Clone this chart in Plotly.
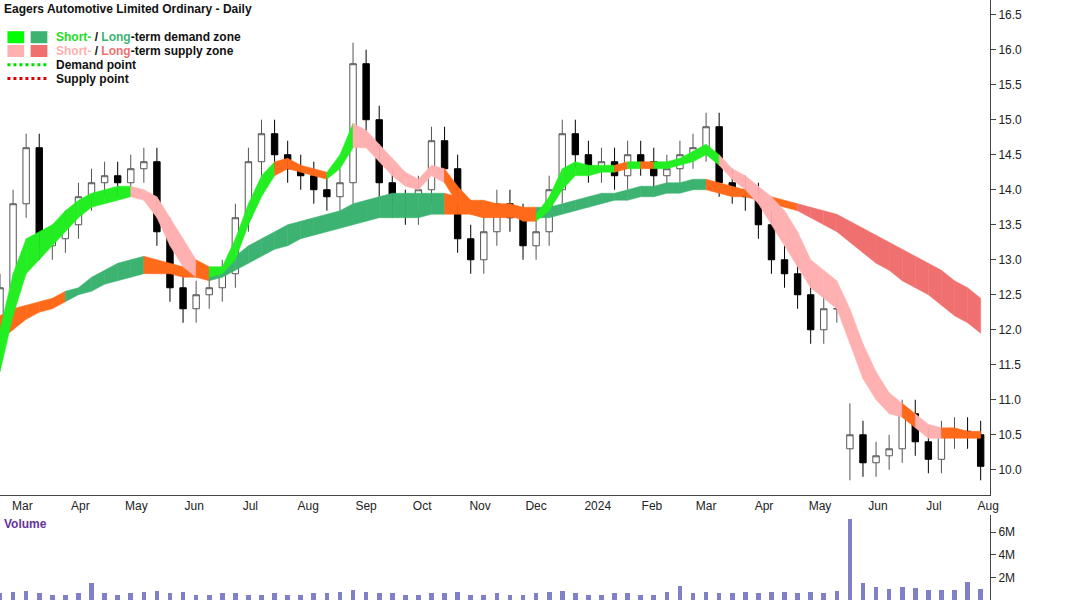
import pandas as pd
import plotly.graph_objects as go
from plotly.subplots import make_subplots

dates = pd.date_range("2023-02-24", periods=76, freq="7D")
close = [12.6,13.8,14.6,13.2,13.3,13.5,13.9,14.1,14.2,14.1,14.3,14.4,13.4,12.6,12.3,12.5,12.6,12.8,13.6,14.4,
         14.8,14.5,14.3,14.2,14.0,13.9,14.1,15.8,15.0,14.1,13.8,13.7,14.0,14.7,14.3,13.3,13.0,13.4,13.8,13.6,
         13.2,13.4,14.0,14.8,14.5,14.3,14.4,14.2,14.5,14.4,14.2,14.3,14.5,14.6,14.9,14.1,14.0,13.9,13.5,13.0,
         12.8,12.5,12.0,12.3,12.3,10.5,10.1,10.2,10.3,10.8,10.4,10.15,10.5,10.55,10.5,10.05]
open_ = [12.0] + close[:-1]
open_[65] = 10.3
wick = [0.2]*76
wick[27] = 0.3; wick[65] = 0.45

short_lo = [11.4,12.2,12.8,13.0,13.2,13.4,13.6,13.75,13.8,13.85,13.9,13.85,13.6,13.2,12.9,12.75,12.75,12.8,13.0,13.5,
            13.9,14.2,14.3,14.25,14.2,14.15,14.3,14.6,14.6,14.4,14.2,14.05,14.0,14.2,14.1,13.8,13.65,13.6,13.65,13.65,
            13.55,13.55,13.7,14.0,14.2,14.2,14.25,14.25,14.3,14.3,14.3,14.3,14.35,14.4,14.5,14.35,14.15,14.0,13.8,13.5,
            13.2,12.9,12.6,12.45,12.3,11.8,11.3,11.0,10.8,10.75,10.6,10.45,10.45,10.45,10.45,10.45]
short_hi = [12.0,12.8,13.3,13.4,13.5,13.7,13.85,13.95,14.0,14.05,14.05,14.0,13.9,13.6,13.3,13.0,12.9,12.9,13.3,13.8,
            14.2,14.4,14.45,14.35,14.3,14.25,14.5,14.95,14.85,14.65,14.45,14.25,14.15,14.35,14.3,14.05,13.85,13.75,13.8,13.75,
            13.7,13.65,13.9,14.3,14.4,14.35,14.35,14.35,14.4,14.4,14.4,14.4,14.45,14.55,14.65,14.5,14.3,14.2,14.05,13.9,
            13.7,13.4,13.0,12.85,12.7,12.3,11.8,11.4,11.1,10.95,10.8,10.65,10.6,10.6,10.55,10.55]
short_kind = list("ddddddddddd" "sssss" "o" "ddddd" "oooo" "dd" "sssssss" "ooooooo" "dddddd" "odod" "dddd" "ssssssssssssss" "o" "ss" "oooo")
long_lo = [11.85,12.0,12.15,12.25,12.3,12.4,12.5,12.55,12.65,12.7,12.75,12.8,12.8,12.8,12.75,12.75,12.7,12.75,12.85,12.95,
           13.05,13.15,13.2,13.3,13.35,13.4,13.45,13.5,13.55,13.6,13.6,13.6,13.6,13.65,13.65,13.65,13.65,13.6,13.6,13.6,
           13.6,13.6,13.6,13.65,13.7,13.75,13.8,13.85,13.85,13.9,13.9,13.95,13.95,14.0,14.0,13.95,13.9,13.9,13.85,13.8,
           13.75,13.7,13.6,13.5,13.4,13.25,13.1,12.95,12.85,12.7,12.6,12.5,12.35,12.2,12.1,11.95]
long_hi = [12.2,12.3,12.35,12.4,12.45,12.55,12.6,12.75,12.85,12.95,13.0,13.05,13.0,12.95,12.9,12.9,12.85,12.9,13.05,13.2,
           13.3,13.4,13.5,13.55,13.6,13.65,13.7,13.8,13.85,13.9,13.95,13.95,13.95,13.95,13.95,13.9,13.85,13.85,13.8,13.8,
           13.75,13.75,13.75,13.8,13.85,13.9,13.95,13.95,14.0,14.05,14.05,14.1,14.1,14.15,14.15,14.1,14.05,14.0,13.95,13.9,
           13.85,13.8,13.75,13.7,13.65,13.55,13.45,13.35,13.25,13.15,13.05,12.95,12.85,12.7,12.6,12.45]
long_kind = list("oooooo" "dddddd" "ooooo" "dddddddddddddddddd" "ooooooo" "ddddddddddddd" "ooooooo" "ssssssssssssss")
volume = [0.6,0.7,0.8,0.6,0.5,0.5,0.6,1.5,0.6,0.5,0.6,0.7,0.8,0.6,0.7,0.5,0.5,0.6,0.6,0.5,
          0.5,0.6,0.5,0.5,0.6,0.6,0.7,0.9,0.7,0.6,0.6,0.5,0.5,0.6,0.6,0.7,0.5,0.5,0.6,0.5,
          0.5,0.6,0.7,0.8,0.6,0.5,0.5,0.6,0.6,0.5,0.5,0.7,1.3,0.6,0.7,0.6,0.6,0.7,0.6,0.7,
          0.7,0.6,0.7,0.6,0.8,7.2,1.5,1.2,1.0,1.2,1.1,0.9,0.9,0.9,1.6,1.0]
month_ticks = ["2023-03-08","2023-04-08","2023-05-08","2023-06-08","2023-07-08","2023-08-08","2023-09-08","2023-10-08",
               "2023-11-08","2023-12-08","2024-01-10","2024-02-08","2024-03-08","2024-04-08","2024-05-08","2024-06-08",
               "2024-07-08","2024-08-06"]
month_labels = ["Mar","Apr","May","Jun","Jul","Aug","Sep","Oct","Nov","Dec","2024","Feb","Mar","Apr","May","Jun","Jul","Aug"]

COL = {"sd": "#22ee22", "ss": "#ffb0b0", "so": "#ff6a1a", "ld": "#3cb371", "ls": "#f07070", "lo": "#ff6a1a"}

fig = make_subplots(rows=2, cols=1, shared_xaxes=True)

def band(lo, hi, kind, pref):
    for i in range(len(dates) - 1):
        c = COL[pref + kind[i + 1]]
        fig.add_trace(go.Scatter(x=[dates[i], dates[i+1], dates[i+1], dates[i], dates[i]],
                                 y=[lo[i], lo[i+1], hi[i+1], hi[i], lo[i]], fill="toself",
                                 fillcolor=c, line=dict(width=0.5, color=c), mode="lines",
                                 hoverinfo="skip", showlegend=False), row=1, col=1)

band(long_lo, long_hi, long_kind, "l")
band(short_lo, short_hi, short_kind, "s")

high = [max(o, c) + w for o, c, w in zip(open_, close, wick)]
low = [min(o, c) - w for o, c, w in zip(open_, close, wick)]
fig.add_trace(go.Candlestick(x=dates, open=open_, high=high, low=low, close=close,
                             increasing=dict(line=dict(color="#555", width=1), fillcolor="white"),
                             decreasing=dict(line=dict(color="black", width=1), fillcolor="black"),
                             whiskerwidth=0, showlegend=False), row=1, col=1)
fig.add_trace(go.Bar(x=dates, y=[v * 1e6 for v in volume], marker=dict(color="#8080c8", line=dict(width=0)),
                     width=2.5 * 86400000, showlegend=False), row=2, col=1)

fig.update_layout(width=1066, height=600, margin=dict(l=0, r=76, t=0, b=0, autoexpand=False), plot_bgcolor="white",
                  paper_bgcolor="white", font=dict(family="Liberation Sans, Arial", size=12, color="#222"),
                  xaxis_rangeslider_visible=False, bargap=0)
xr = ["2023-02-24", "2024-08-07"]
fig.update_xaxes(range=xr, showgrid=False, showline=True, linecolor="#444", mirror=False, ticks="",
                 tickvals=month_ticks, ticktext=month_labels, tickfont=dict(size=12, color="#222"))
fig.update_xaxes(showticklabels=True, row=1, col=1)
fig.update_xaxes(showticklabels=False, row=2, col=1)
fig.update_layout(xaxis=dict(domain=[0, 1]), yaxis=dict(domain=[0.175, 1]), yaxis2=dict(domain=[0, 0.142]))
fig.update_yaxes(side="right", showgrid=False, showline=True, linecolor="#444", ticks="outside", ticklen=5,
                 tickcolor="#444", tickfont=dict(size=12, color="#222"))
fig.update_yaxes(range=[9.64, 16.71], tickvals=[10 + 0.5 * k for k in range(14)], tickformat=".1f", row=1, col=1)
fig.update_yaxes(range=[0, 7.55e6], tickvals=[0, 2e6, 4e6, 6e6], ticktext=["0", "2M", "4M", "6M"], row=2, col=1)

fig.add_annotation(x=0.002, y=1.0, xref="paper", yref="paper", xanchor="left", yanchor="top", showarrow=False,
                   text="<b>Eagers Automotive Limited Ordinary - Daily</b>", font=dict(size=12, color="#111"))
fig.add_annotation(x=0.002, y=0.142, xref="paper", yref="paper", xanchor="left", yanchor="top", showarrow=False,
                   text="<b>Volume</b>", font=dict(size=12, color="#663399"))
leg = [
    ('<b><span style="color:#22dd22">Short-</span> / <span style="color:#3cb371">Long</span>-term demand zone</b>', 0.938),
    ('<b><span style="color:#ffb0b0">Short-</span> / <span style="color:#f07070">Long</span>-term supply zone</b>', 0.915),
    ('<b>Demand point</b>', 0.892),
    ('<b>Supply point</b>', 0.869),
]
for t, yy in leg:
    fig.add_annotation(x=58 / 1066, y=yy, xref="paper", yref="paper", xanchor="left", yanchor="middle",
                       showarrow=False, text=t, font=dict(size=12, color="#111"))
for x0, c, yy in [(8, "#00ff00", 0.938), (33, "#3cb371", 0.938), (8, "#ffb0b0", 0.915), (33, "#f07070", 0.915)]:
    fig.add_shape(type="rect", xref="paper", yref="paper", x0=x0 / 1066, x1=(x0 + 18) / 1066,
                  y0=yy - 0.01, y1=yy + 0.01, fillcolor=c, line=dict(width=0))
for c, yy in [("#00dd00", 0.892), ("#dd0000", 0.869)]:
    fig.add_shape(type="line", xref="paper", yref="paper", x0=8 / 1066, x1=51 / 1066, y0=yy, y1=yy,
                  line=dict(color=c, width=3, dash="dot"))

fig.write_html("out.html", config={"displayModeBar": False},
               post_script="document.body.style.margin='0';document.body.style.overflow='hidden';")
